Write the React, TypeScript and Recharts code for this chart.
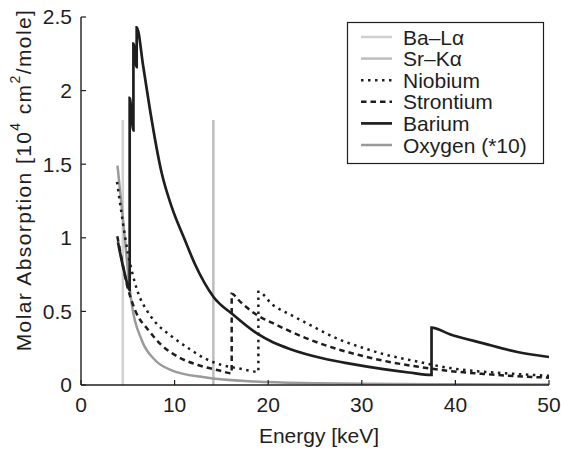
import { LineChart, Line, XAxis, YAxis } from "recharts";

const xTicks = [0, 10, 20, 30, 40, 50];
const yTicks = [0, 0.5, 1, 1.5, 2, 2.5];

// emission lines (vertical markers)
const baLaEnergy = [4.47, 4.47];
const baLaValue = [0, 1.8];
const srKaEnergy = [14.14, 14.14];
const srKaValue = [0, 1.8];

// absorption curves (edges are repeated energies)
const niobiumEnergy = [3.85, 4.3, 4.7, 5.0, 5.41, 6.13, 7.0, 7.9, 9.69, 11.47, 13.25, 15.03, 16.8, 18.95, 18.95, 20.5, 22.3, 24.1, 27.7, 30, 32.3, 35.9, 39.4, 43, 46.5, 50];
const niobiumValue = [1.38, 1.18, 1.01, 0.9, 0.78, 0.62, 0.51, 0.43, 0.33, 0.25, 0.18, 0.136, 0.113, 0.09, 0.634, 0.543, 0.48, 0.42, 0.306, 0.255, 0.21, 0.16, 0.115, 0.09, 0.075, 0.062];

const strontiumEnergy = [3.88, 4.3, 4.8, 5.77, 7.19, 8.62, 10.4, 12.5, 14.67, 16.1, 16.1, 17.0, 18.8, 20.5, 24.1, 27.7, 29.6, 32.3, 35.9, 39.4, 43, 46.5, 50];
const strontiumValue = [1.01, 0.87, 0.71, 0.51, 0.374, 0.27, 0.19, 0.136, 0.1, 0.08, 0.62, 0.566, 0.475, 0.42, 0.317, 0.238, 0.205, 0.165, 0.125, 0.095, 0.075, 0.06, 0.05];

const bariumEnergy = [3.95, 4.3, 4.7, 5.2, 5.2, 5.6, 5.6, 5.95, 5.95, 6.66, 7.37, 8.62, 9.69, 11.1, 12.18, 14.14, 16.3, 18.8, 20.5, 22.3, 25.9, 28.7, 32.3, 35, 37.45, 37.45, 39.4, 43, 46.5, 50];
const bariumValue = [0.97, 0.86, 0.75, 0.645, 1.95, 1.73, 2.32, 2.16, 2.43, 2.16, 1.87, 1.44, 1.21, 0.985, 0.82, 0.6, 0.475, 0.35, 0.29, 0.245, 0.18, 0.145, 0.108, 0.085, 0.068, 0.39, 0.345, 0.283, 0.226, 0.19];

const oxygenEnergy = [3.9, 4.35, 4.8, 5.06, 5.41, 6.48, 7.9, 9.69, 13.2, 18.6, 25, 30, 40, 50];
const oxygenValue = [1.49, 1.21, 0.92, 0.74, 0.555, 0.306, 0.17, 0.1, 0.052, 0.023, 0.012, 0.008, 0.005, 0.003];

const zip = (xs: number[], ys: number[]) => xs.map((x, i) => ({ x, y: ys[i] }));

const ink = "#1e1e1e";
const font = "'Liberation Sans', Arial, Helvetica, sans-serif";

const baLa = { name: "Ba–Lα", data: zip(baLaEnergy, baLaValue), color: "#d0d0d0", width: 2.5, dash: undefined, curve: "linear" };
const srKa = { name: "Sr–Kα", data: zip(srKaEnergy, srKaValue), color: "#bdbdbd", width: 2.5, dash: undefined, curve: "linear" };
const niobium = { name: "Niobium", data: zip(niobiumEnergy, niobiumValue), color: ink, width: 2.5, dash: "2.5 4.5", curve: "monotone" };
const strontium = { name: "Strontium", data: zip(strontiumEnergy, strontiumValue), color: ink, width: 2.5, dash: "5.5 4", curve: "monotone" };
const barium = { name: "Barium", data: zip(bariumEnergy, bariumValue), color: ink, width: 2.7, dash: undefined, curve: "monotone" };
const oxygen = { name: "Oxygen (*10)", data: zip(oxygenEnergy, oxygenValue), color: "#9a9a9a", width: 2.5, dash: undefined, curve: "monotone" };

const legendOrder = [baLa, srKa, niobium, strontium, barium, oxygen];
const drawOrder = [baLa, srKa, oxygen, niobium, strontium, barium];

function XTitle() {
  return (
    <text x={319} y={443} textAnchor="middle" fontSize={21} fontFamily={font} fill={ink}>
      Energy [keV]
    </text>
  );
}

function YTitle() {
  return (
    <text
      x={23}
      y={180}
      transform="rotate(-90 23 180)"
      textAnchor="middle"
      dominantBaseline="central"
      fontSize={21}
      fontFamily={font}
      letterSpacing={1.4}
      fill={ink}
    >
      Molar Absorption [10
      <tspan dy={-8} fontSize={14}>4</tspan>
      <tspan dy={8}> cm</tspan>
      <tspan dy={-8} fontSize={14}>2</tspan>
      <tspan dy={8}>/mole]</tspan>
    </text>
  );
}

function LegendBox() {
  return (
    <svg
      width={197}
      height={142}
      style={{ position: "absolute", left: 346.7, top: 21.7, overflow: "visible" }}
    >
      <rect x={0.5} y={0.5} width={196} height={141} fill="#fff" stroke={ink} strokeWidth={1.2} />
      {legendOrder.map((s, i) => {
        const cy = 15 + i * 21.6;
        return (
          <g key={s.name}>
            <line x1={14} x2={45} y1={cy} y2={cy} stroke={s.color} strokeWidth={s.width} strokeDasharray={s.dash} />
            <text x={56} y={cy} dominantBaseline="central" fontSize={21} fontFamily={font} fill={ink}>
              {s.name}
            </text>
          </g>
        );
      })}
    </svg>
  );
}

export default function App() {
  const axisLine = { stroke: ink, strokeWidth: 1.4 };
  const tickLine = { stroke: ink, strokeWidth: 1.2 };
  const tickStyle = { fill: ink, fontSize: 21, fontFamily: font };
  return (
    <div style={{ position: "relative", width: 561, height: 452, fontFamily: font }}>
      <style>{"body { margin: 0; }"}</style>
      <LineChart width={561} height={452} margin={{ top: 17, right: 12, bottom: 0, left: 8 }}>
        <XAxis
          dataKey="x"
          type="number"
          domain={[0, 50]}
          ticks={xTicks}
          interval={0}
          height={67}
          axisLine={axisLine}
          tickLine={tickLine}
          tickSize={-5}
          tickMargin={17}
          tick={tickStyle}
          label={<XTitle />}
          allowDataOverflow
        />
        <XAxis
          xAxisId="top"
          orientation="top"
          type="number"
          domain={[0, 50]}
          ticks={xTicks}
          interval={0}
          height={0}
          axisLine={axisLine}
          tickLine={tickLine}
          tickSize={-5}
          tick={false}
        />
        <YAxis
          type="number"
          domain={[0, 2.5]}
          ticks={yTicks}
          interval={0}
          width={73}
          axisLine={axisLine}
          tickLine={tickLine}
          tickSize={-5}
          tickMargin={14}
          tick={tickStyle}
          label={<YTitle />}
          allowDataOverflow
        />
        <YAxis
          yAxisId="right"
          orientation="right"
          type="number"
          domain={[0, 2.5]}
          ticks={yTicks}
          interval={0}
          width={0}
          axisLine={axisLine}
          tickLine={tickLine}
          tickSize={-5}
          tick={false}
        />
        {drawOrder.map((s) => (
          <Line
            key={s.name}
            data={s.data}
            dataKey="y"
            type={s.curve as "linear" | "monotone"}
            stroke={s.color}
            strokeWidth={s.width}
            strokeDasharray={s.dash}
            dot={false}
            activeDot={false}
            isAnimationActive={false}
          />
        ))}
      </LineChart>
      <LegendBox />
    </div>
  );
}
